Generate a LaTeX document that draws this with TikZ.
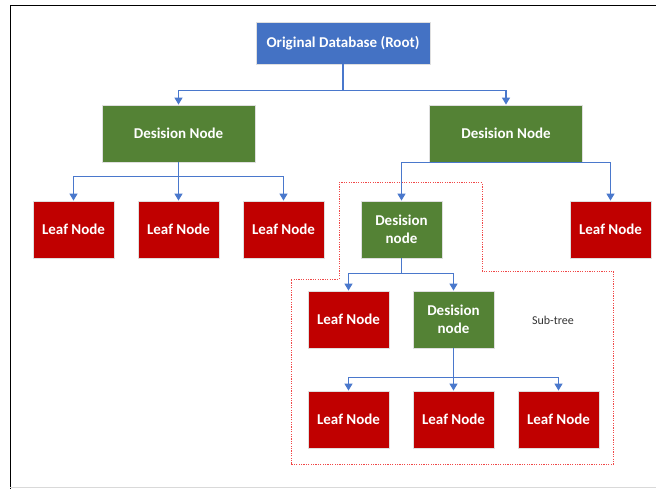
\documentclass[tikz,border=0pt]{standalone}
\usepackage{fontspec}
\setmainfont{Carlito}
\usetikzlibrary{arrows.meta}
\definecolor{rootblue}{HTML}{4472C4}
\definecolor{decgreen}{HTML}{548235}
\definecolor{leafred}{HTML}{C00000}
\definecolor{linkblue}{HTML}{4A78CC}
\definecolor{subred}{HTML}{F04848}
\tikzset{
  boxbase/.style={draw=white!75!gray, line width=0.8pt, text=white, font=\bfseries\fontsize{15}{18}\selectfont, align=center, inner sep=0pt},
  rootbox/.style={boxbase, fill=rootblue, minimum width=174pt, minimum height=42pt},
  decbox/.style={boxbase, fill=decgreen, minimum width=153pt, minimum height=57pt},
  smalldec/.style={boxbase, fill=decgreen, minimum width=81pt, minimum height=57pt},
  leafbox/.style={boxbase, fill=leafred, minimum width=81pt, minimum height=57pt},
  link/.style={draw=linkblue, line width=1.1pt},
  arr/.style={link, -{Triangle[width=8pt,length=7pt]}},
  subline/.style={draw=subred, line width=1pt, dash pattern=on 1.2pt off 1.2pt}
}
\begin{document}
\begin{tikzpicture}[x=1pt,y=-1pt]
\useasboundingbox (0,0) rectangle (656,489);
% frame
\draw[black, line width=1pt] (10,489) -- (10,5.5) -- (656,5.5);
\draw[gray!30, line width=1pt] (10,487.5) -- (656,487.5);
% sub-tree outline
\draw[subline] (339,183) -- (482,183) -- (482,271) -- (613,271) -- (613,464.5) -- (291,464.5) -- (291,279) -- (339,279) -- cycle;
% nodes
\node[rootbox] (root) at (343,43) {Original Database (Root)};
\node[decbox] (decL) at (178.5,133.5) {Desision Node};
\node[decbox] (decR) at (506,133.5) {Desision Node};
\node[leafbox] (leaf1) at (73.5,229.5) {Leaf Node};
\node[leafbox] (leaf2) at (178.5,229.5) {Leaf Node};
\node[leafbox] (leaf3) at (283.5,229.5) {Leaf Node};
\node[smalldec] (sub1) at (401.5,229.5) {Desision\\node};
\node[leafbox] (leafR) at (610.5,229.5) {Leaf Node};
\node[leafbox] (leaf4) at (348.5,319.5) {Leaf Node};
\node[smalldec] (sub2) at (453.5,319.5) {Desision\\node};
\node[leafbox] (leaf5) at (348.5,419.5) {Leaf Node};
\node[leafbox] (leaf6) at (453.5,419.5) {Leaf Node};
\node[leafbox] (leaf7) at (558.5,419.5) {Leaf Node};
\node[font=\fontsize{12}{14}\selectfont, text=black!80] (subtree) at (553,320) {Sub-tree};
% connectors
\draw[arr] (root.south) -- ++(0,26) -| (decL.north);
\draw[arr] (root.south) -- ++(0,26) -| (decR.north);
\draw[arr] (decL.south) -- ++(0,14) -| (leaf1.north);
\draw[arr] (decL.south) -- (leaf2.north);
\draw[arr] (decL.south) -- ++(0,14) -| (leaf3.north);
\draw[link] (sub1.north |- decR.south) -- (leafR.north |- decR.south);
\draw[arr] (sub1.north |- decR.south) -- (sub1.north);
\draw[arr] (leafR.north |- decR.south) -- (leafR.north);
\draw[arr] (sub1.south) -- ++(0,15) -| (leaf4.north);
\draw[arr] (sub1.south) -- ++(0,15) -| (sub2.north);
\draw[arr] (sub2.south) -- ++(0,29) -| (leaf5.north);
\draw[arr] (sub2.south) -- (leaf6.north);
\draw[arr] (sub2.south) -- ++(0,29) -| (leaf7.north);
\end{tikzpicture}
\end{document}
